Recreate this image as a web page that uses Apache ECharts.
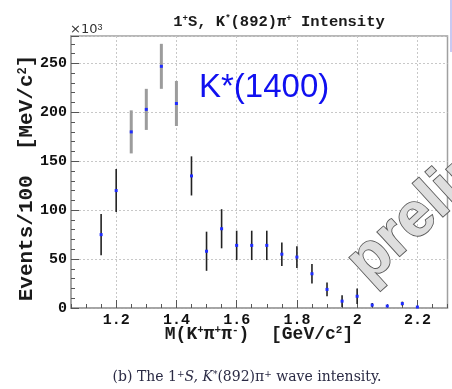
<!DOCTYPE html>
<html><head><meta charset="utf-8">
<script src="https://cdn.jsdelivr.net/npm/echarts@6/dist/echarts.min.js"></script>
<style>html,body{margin:0;padding:0;background:#fff}#c{width:452px;height:389px}</style>
</head><body><div id="c"></div>
<script>
// K*(892)pi+ 1+S wave intensity per 50 MeV mass bin (units of 10^3 events)
const massBins = [1.15, 1.20, 1.25, 1.30, 1.35, 1.40, 1.45, 1.50, 1.55, 1.60, 1.65,
                  1.70, 1.75, 1.80, 1.85, 1.90, 1.95, 2.00, 2.05, 2.10, 2.15, 2.20];
const intensity = [75, 120, 180, 203, 247, 209, 135, 58, 81, 64, 64,
                   64, 55, 52, 35, 19, 7, 12, 3, 2, 4.5, 1];
const errors    = [21, 22, 22, 21, 23, 23, 20, 20, 20, 15, 15,
                   15, 12, 11, 10, 7, 6, 8, 2, 1, 2, 1];
// bins in the K*(1400) peak, drawn with grey bars
const k1400Bins = [1.25, 1.30, 1.35, 1.40];
const xMajorTicks = [1.2, 1.4, 1.6, 1.8, 2.0, 2.2];
const yMajorTicks = [0, 50, 100, 150, 200, 250];

const points = massBins.map((m, i) => [m, intensity[i], errors[i]]);
const mono = '"Liberation Mono", "DejaVu Sans Mono", monospace';
const frameColor = '#a0a0a0';
const gridLine = { show: true, lineStyle: { color: '#c8c8c8', type: [2, 2], width: 1 } };

function renderItem(params, api) {
  const x = api.value(0), v = api.value(1), e = api.value(2);
  const top = api.coord([x, v + e]);
  const bot = api.coord([x, Math.max(v - e, 0)]);
  const c = api.coord([x, v]);
  const peak = k1400Bins.some(m => Math.abs(m - x) < 1e-6);
  return {
    type: 'group',
    children: [
      { type: 'line', shape: { x1: top[0], y1: top[1], x2: bot[0], y2: bot[1] },
        style: { stroke: peak ? '#9c9c9c' : '#222', lineWidth: peak ? 3 : 1.6 } },
      { type: 'rect', shape: { x: c[0] - 1.5, y: c[1] - 1.5, width: 3, height: 3 },
        style: { fill: '#1f2cff' } }
    ]
  };
}

const chart = echarts.init(document.getElementById('c'), null, { renderer: 'canvas' });
chart.setOption({
  animation: false,
  backgroundColor: '#fff',
  grid: { left: 71, right: 4.5, top: 36, bottom: 81, show: true,
          borderColor: frameColor, borderWidth: 1.5, containLabel: false },
  xAxis: [
    { type: 'value', min: 1.05, max: 2.3, position: 'bottom',
      axisLine: { show: true, lineStyle: { color: frameColor, width: 1.5 } },
      axisTick: { show: true, inside: true, length: 8, customValues: xMajorTicks,
                  lineStyle: { color: '#555', width: 1 } },
      axisLabel: { customValues: xMajorTicks, margin: 5, color: '#111',
                   fontFamily: mono, fontWeight: 'bold', fontSize: 15 },
      splitLine: gridLine },
    { type: 'value', min: 1.05, max: 2.3, interval: 0.05, position: 'bottom',
      axisLine: { show: false },
      axisTick: { show: true, inside: true, length: 4, lineStyle: { color: '#555', width: 1 } },
      axisLabel: { show: false }, splitLine: { show: false } }
  ],
  yAxis: {
    type: 'value', min: 0, max: 278, interval: 50,
    axisLine: { show: true, lineStyle: { color: frameColor, width: 1.5 } },
    axisTick: { show: true, inside: true, length: 8, lineStyle: { color: '#555', width: 1 } },
    minorTick: { show: true, splitNumber: 5, length: 4, lineStyle: { color: '#555', width: 1 } },
    axisLabel: { customValues: yMajorTicks, margin: 4, color: '#111',
                 fontFamily: mono, fontWeight: 'bold', fontSize: 15 },
    splitLine: gridLine
  },
  series: [{
    type: 'custom', xAxisIndex: 0, yAxisIndex: 0,
    renderItem: renderItem, data: points, z: 5
  }],
  graphic: [
    { type: 'rect', shape: { x: 450, y: 0, width: 2, height: 52 }, style: { fill: '#c9c9f2' } },
    { type: 'text', x: 279, y: 22, z: 10,
      style: { text: '1{s|+}S, K{s|*}(892)π{s|+} Intensity', textAlign: 'center', textVerticalAlign: 'middle',
               font: 'bold 15.5px ' + mono, fill: '#1a1a1a',
               rich: { s: { fontSize: 9, fontFamily: mono, fontWeight: 'bold', verticalAlign: 'top' } } } },
    { type: 'text', x: 70, y: 30, z: 10,
      style: { text: '×10{s|3}', textAlign: 'left', textVerticalAlign: 'middle',
               font: '13px "DejaVu Sans", sans-serif', fill: '#333',
               rich: { s: { fontSize: 9, verticalAlign: 'top' } } } },
    { type: 'text', x: 27, y: 178, rotation: Math.PI / 2, z: 10,
      style: { text: 'Events/100  [MeV/c{s|2}]', textAlign: 'center', textVerticalAlign: 'middle',
               font: 'bold 21px ' + mono, fill: '#1a1a1a',
               rich: { s: { fontSize: 12, fontFamily: mono, fontWeight: 'bold', verticalAlign: 'top' } } } },
    { type: 'text', x: 259, y: 334, z: 10,
      style: { text: 'M(K{s|+}π{s|+}π{s|-})  [GeV/c{s|2}]', textAlign: 'center', textVerticalAlign: 'middle',
               font: 'bold 18px ' + mono, fill: '#1a1a1a',
               rich: { s: { fontSize: 11, fontFamily: mono, fontWeight: 'bold', verticalAlign: 'top' } } } },
    { type: 'text', x: 247, y: 377, z: 10,
      style: { text: '(b) The 1{s|+}{i|S, K}{s|*}(892)π{s|+} wave intensity.', textAlign: 'center',
               textVerticalAlign: 'middle', font: '14px "DejaVu Serif", serif', fill: '#2a2a44',
               rich: { s: { fontSize: 9, fontFamily: 'DejaVu Serif', verticalAlign: 'top' },
                       i: { fontSize: 14, fontFamily: 'DejaVu Serif', fontStyle: 'italic' } } } },
    { type: 'text', x: 199, y: 88, z: 10,
      style: { text: 'K*(1400)', textAlign: 'left', textVerticalAlign: 'middle',
               font: '33px "Liberation Sans", Arial, sans-serif', fill: '#1010f0' } },
    { type: 'text', x: 357, y: 272, rotation: 0.74, z: 20,
      style: { text: 'preliminary', textAlign: 'left', textVerticalAlign: 'middle',
               font: 'bold 62px "Liberation Sans", sans-serif', fill: '#dedede', stroke: '#5a5a5a',
               lineWidth: 1.8, shadowBlur: 4, shadowColor: 'rgba(0,0,0,0.5)',
               shadowOffsetX: 2, shadowOffsetY: 3 } }
  ]
});
</script>
</body></html>
